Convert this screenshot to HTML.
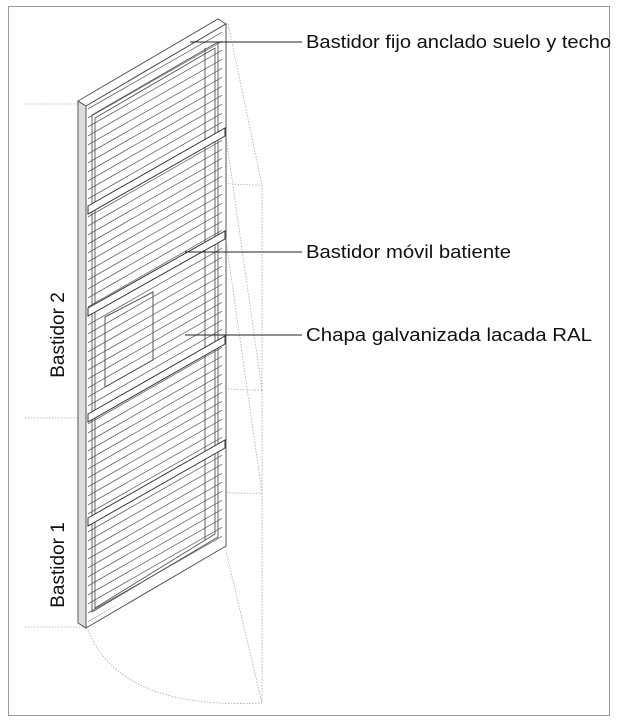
<!DOCTYPE html>
<html><head><meta charset="utf-8"><style>
html,body{margin:0;padding:0;background:#fff}
svg{display:block}
text{font-family:"Liberation Sans",sans-serif;fill:#111}
</style></head><body>
<svg width="618" height="722" viewBox="0 0 618 722" xmlns="http://www.w3.org/2000/svg">
<defs>
<clipPath id="face"><polygon points="88,108 222,30 222,543 88,622"/></clipPath>
</defs>
<rect x="8.5" y="6.5" width="601" height="709" fill="none" stroke="#999" stroke-width="1"/>
<g fill="none" stroke="#aaa" stroke-width="0.8" stroke-dasharray="1.5,1.5">
<line x1="25" y1="104" x2="80" y2="104"/>
<line x1="25" y1="418" x2="88" y2="418"/>
<line x1="25" y1="627" x2="86" y2="627"/>
<line x1="228" y1="24" x2="262" y2="185"/>
<path d="M90,108 Q130,185 262,185"/>
<line x1="262" y1="185" x2="262" y2="390"/>
<line x1="225" y1="130" x2="262" y2="390"/>
<path d="M90,310 Q140,392 262,390"/>
<line x1="225" y1="234" x2="262" y2="493"/>
<line x1="262" y1="390" x2="262" y2="493"/>
<path d="M90,417 Q140,498 262,493"/>
<line x1="262" y1="493" x2="262" y2="703"/>
<line x1="225" y1="547" x2="262" y2="703"/>
<path d="M88,630 Q120,710 262,703"/>
</g>
<polygon points="78,101 86,106 86,628 78,623" fill="#ddd" stroke="#555" stroke-width="1"/>
<polygon points="78,101 218,19 226,24 86,106" fill="#fff" stroke="#555" stroke-width="1"/>
<polygon points="86,106 226,24 226,546 86,628" fill="#fff" stroke="#555" stroke-width="1"/>
<path clip-path="url(#face)" stroke="#666" stroke-width="0.8" fill="none" d="
M86,110 l140,-80 M86,119 l140,-80 M86,128 l140,-80 M86,137 l140,-80 M86,146 l140,-80 M86,155 l140,-80 M86,164 l140,-80 M86,173 l140,-80 M86,182 l140,-80 M86,191 l140,-80
M86,200 l140,-80 M86,209 l140,-80 M86,218 l140,-80 M86,227 l140,-80 M86,236 l140,-80 M86,245 l140,-80 M86,254 l140,-80 M86,263 l140,-80 M86,272 l140,-80 M86,281 l140,-80
M86,290 l140,-80 M86,299 l140,-80 M86,308 l140,-80 M86,317 l140,-80 M86,326 l140,-80 M86,335 l140,-80 M86,344 l140,-80 M86,353 l140,-80 M86,362 l140,-80 M86,371 l140,-80
M86,380 l140,-80 M86,389 l140,-80 M86,398 l140,-80 M86,407 l140,-80 M86,416 l140,-80 M86,425 l140,-80 M86,434 l140,-80 M86,443 l140,-80 M86,452 l140,-80 M86,461 l140,-80
M86,470 l140,-80 M86,479 l140,-80 M86,488 l140,-80 M86,497 l140,-80 M86,506 l140,-80 M86,515 l140,-80 M86,524 l140,-80 M86,533 l140,-80 M86,542 l140,-80 M86,551 l140,-80
M86,560 l140,-80 M86,569 l140,-80 M86,578 l140,-80 M86,587 l140,-80 M86,596 l140,-80 M86,605 l140,-80 M86,614 l140,-80 M86,623 l140,-80 M86,632 l140,-80 M86,641 l140,-80
M86,650 l140,-80 M86,659 l140,-80 M86,668 l140,-80 M86,677 l140,-80 M86,686 l140,-80 M86,695 l140,-80 M86,704 l140,-80"/>
<g fill="none" stroke="#555" stroke-width="0.9">
<polygon points="92,115 218,42 218,537 92,612"/>
<polygon points="95,118 215,48 215,534 95,608"/>
<line x1="205" y1="48" x2="205" y2="540"/>
</g>
<g fill="#fff" stroke="#333" stroke-width="1">
<polygon points="88,206 225,128 225,136 88,214"/>
<polygon points="88,308 225,231 225,239 88,316"/>
<polygon points="88,414 225,336 225,344 88,422"/>
<polygon points="88,518 225,440 225,448 88,526"/>
</g>
<polygon points="105,317 153,292 153,360 105,387" fill="none" stroke="#555" stroke-width="1"/>
<g stroke="#222" stroke-width="1">
<line x1="190" y1="42" x2="302" y2="42"/>
<line x1="185" y1="252" x2="302" y2="252"/>
<line x1="185" y1="335" x2="302" y2="335"/>
</g>
<text x="306" y="48" font-size="18" textLength="305" lengthAdjust="spacingAndGlyphs">Bastidor fijo anclado suelo y techo</text>
<text x="306" y="258" font-size="18" textLength="205" lengthAdjust="spacingAndGlyphs">Bastidor móvil batiente</text>
<text x="306" y="341" font-size="18" textLength="286" lengthAdjust="spacingAndGlyphs">Chapa galvanizada lacada RAL</text>
<text transform="translate(64,335) rotate(-90)" font-size="19" text-anchor="middle">Bastidor 2</text>
<text transform="translate(64,565) rotate(-90)" font-size="19" text-anchor="middle">Bastidor 1</text>
</svg>
</body></html>
